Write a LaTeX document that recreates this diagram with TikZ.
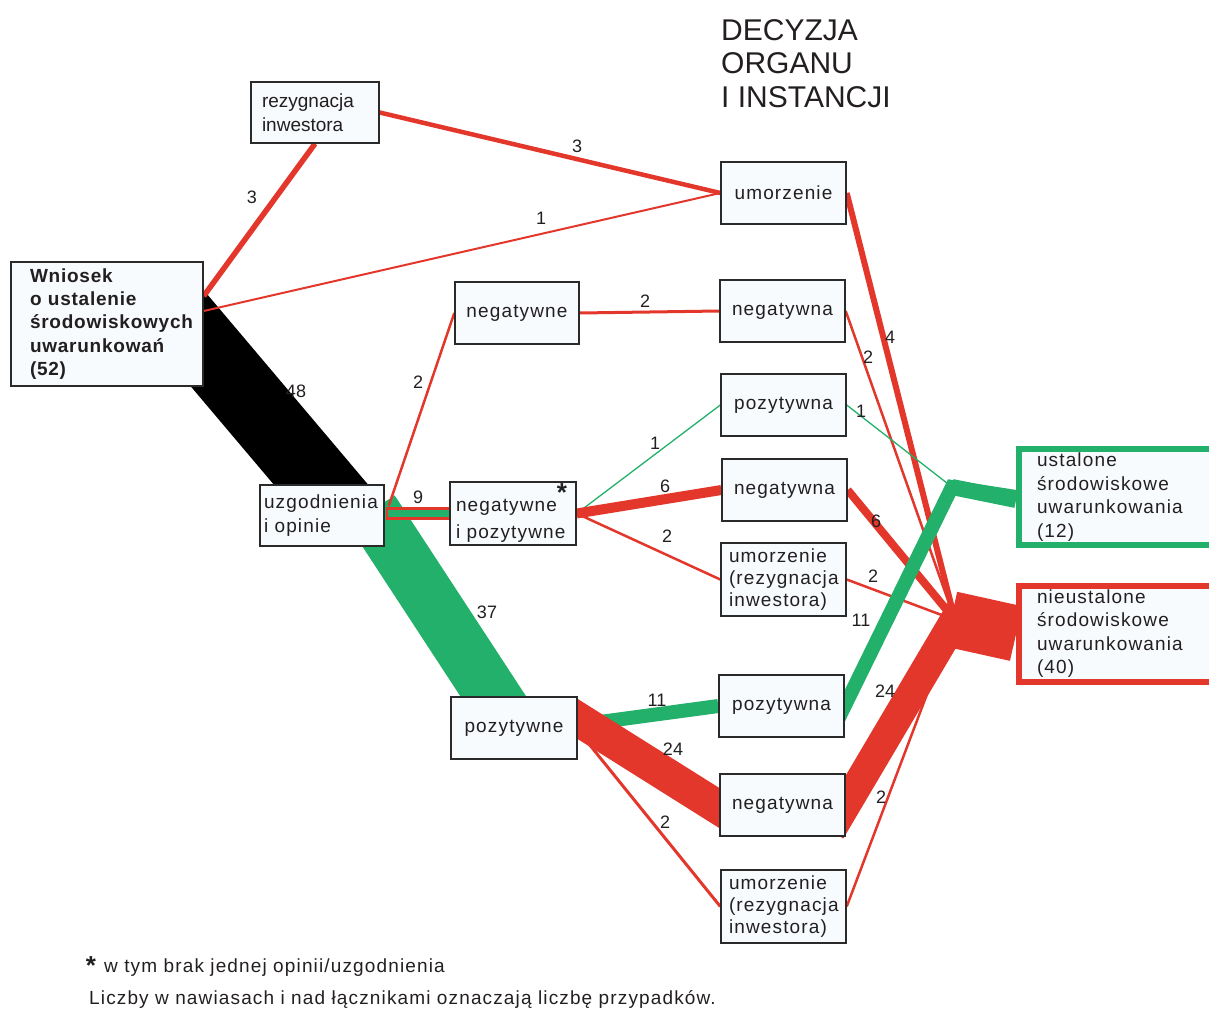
\documentclass[tikz,border=0pt]{standalone}
\usepackage{fontspec}
\setmainfont{Liberation Sans}
\hyphenpenalty=10000
\definecolor{ink}{HTML}{231F20}
\definecolor{frame}{HTML}{2A2A2A}
\definecolor{paper}{HTML}{F7FBFD}
\definecolor{nayred}{HTML}{E3372C}
\definecolor{yeagreen}{HTML}{22B06A}
\newcommand{\boxfont}{\fontsize{19}{23.5}\selectfont\addfontfeatures{LetterSpace=6}}
\newcommand{\boxfontwide}{\fontsize{19}{27}\selectfont\addfontfeatures{LetterSpace=6}}
\newcommand{\boxfonttight}{\fontsize{19}{22}\selectfont\addfontfeatures{LetterSpace=6}}
\newcommand{\plainfont}{\fontsize{19}{24}\selectfont}
\newcommand{\numfont}{\fontsize{18}{20}\selectfont}
\newcommand{\titlefont}{\fontsize{30}{33.5}\selectfont}
\newcommand{\notefont}{\fontsize{19}{20}\selectfont\addfontfeatures{LetterSpace=6}}
\pgfdeclarelayer{background}
\pgfsetlayers{background,main}
\tikzset{
  box/.style={draw=frame, fill=paper, line width=1.4pt, inner sep=0pt,
    minimum width=125pt, minimum height=62pt, text=ink, font=\boxfont},
  boxl/.style={box, align=left, text width=#1},
  outcome/.style={box, line width=6pt, minimum width=196pt, minimum height=96pt,
    align=left, text width=160pt, inner xsep=18pt},
  nay/.style={draw=nayred, line width=#1},
  yea/.style={draw=yeagreen, line width=#1},
  num/.style={text=ink, font=\numfont},
}

\begin{document}
\begin{tikzpicture}[x=1pt,y=-1pt]
  \useasboundingbox (0,0) rectangle (1209,1009);

  % heading
  \node[anchor=north west, align=left, text=ink, font=\titlefont, inner sep=0pt] (title)
    at (721,19) {DECYZJA\\ORGANU\\I INSTANCJI};

  % first column
  \node[boxl=154pt, inner xsep=19pt, minimum width=192pt, minimum height=124pt,
    font={\fontsize{19}{23.3}\selectfont\bfseries\addfontfeatures{LetterSpace=4}}] (wn)
    at (107,324) {Wniosek\\o ustalenie\\środowiskowych\\uwarunkowań\\(52)};
  \node[boxl=106pt, inner xsep=11pt, minimum width=128pt, minimum height=61pt, font=\plainfont] (rez)
    at (315,112.5) {rezygnacja\\inwestora};
  \node[boxl=116pt, inner xsep=4pt, minimum width=124pt, minimum height=61pt] (uzg)
    at (322,515.5) {uzgodnienia\\i opinie};

  % opinions
  \node[box, minimum width=124pt] (negm) at (517,313) {negatywne};
  \node[boxl=114pt, inner xsep=6pt, minimum width=126pt, minimum height=63pt, font=\boxfontwide] (nip)
    at (513,513.5) {\rule{0pt}{27pt}negatywne\\i pozytywne};
  \node[box, minimum width=126pt] (poz) at (514,728) {pozytywne};

  % decisions
  \node[box] (um1) at (783.5,193) {umorzenie};
  \node[box] (neg1) at (782.5,311) {negatywna};
  \node[box] (poz1) at (783.5,405) {pozytywna};
  \node[box] (neg2) at (784.5,490) {negatywna};
  \node[boxl=109pt, inner xsep=8pt, minimum height=73pt, font=\boxfonttight] (um2)
    at (783.5,579.5) {umorzenie\\(rezygnacja\\inwestora)};
  \node[box] (poz2) at (781.5,706) {pozytywna};
  \node[box] (neg3) at (782.5,805) {negatywna};
  \node[boxl=109pt, inner xsep=8pt, minimum height=73pt, font=\boxfonttight] (um3)
    at (783.5,906.5) {umorzenie\\(rezygnacja\\inwestora)};

  % outcomes
  \node[outcome, draw=yeagreen] (ust) at (1117,497)
    {ustalone\\środowiskowe\\uwarunkowania\\(12)};
  \node[outcome, draw=nayred] (nie) at (1117,633.5)
    {nieustalone\\środowiskowe\\uwarunkowania\\(40)};

  \coordinate (gm) at (952,487);
  \coordinate (rm) at (955,620);

  \begin{pgfonlayer}{background}
    \draw[line width=72pt, draw=black, shorten <=-40pt, shorten >=-35pt]
      ([shift={(-5,16)}]wn.east) -- ([shift={(-2,-32)}]uzg.center);
    \draw[yea=55pt] ([shift={(-13,-5)}]uzg.east) -- (poz.center);
    \draw[nay=13pt] ([shift={(1,-2)}]uzg.east) -- (nip.west);
    \draw[yea=7.5pt] ([shift={(3,-2)}]uzg.east) -- (nip.west);
    \draw[nay=5.5pt] ([shift={(0,-28)}]wn.east) -- (rez.south);
    \draw[nay=2pt] ([shift={(0,-13)}]wn.east) -- (um1.west);
    \draw[nay=4.5pt] (rez.east) -- (um1.west);
    \draw[nay=2.5pt] ([shift={(4,-9.5)}]uzg.east) -- (negm.west);

    \draw[nay=3pt] (negm.east) -- (neg1.west);
    \draw[yea=1.3pt] (nip.east) -- (poz1.west);
    \draw[nay=10pt] (nip.east) -- (neg2.west);
    \draw[nay=2.5pt] (nip.east) -- (um2.west);
    \draw[yea=14pt] ([shift={(0,-3)}]poz.east) -- (poz2.west);
    \draw[nay=34pt, shorten <=-15pt, shorten >=-20pt]
      ([shift={(0,-9)}]poz.east) -- ([shift={(0,3)}]neg3.west);
    \draw[nay=3pt] ([shift={(0,2)}]poz.east) -- (um3.west);

    \draw[nay=6pt] (um1.east) -- (rm);
    \draw[nay=2.5pt] (neg1.east) -- (rm);
    \draw[yea=1.3pt] (poz1.east) -- (gm);
    \draw[nay=8pt] (neg2.east) -- (rm);
    \draw[nay=2.5pt] (um2.east) -- (rm);
    \draw[nay=2.5pt] (um3.east) -- (rm);
    \draw[yea=14pt, line join=miter, shorten <=-15pt] (poz2.east) -- (gm) -- (ust.west);
    \draw[yea=16pt] (gm) -- ([shift={(0,3)}]ust.west);
    \draw[nay=30pt, line join=miter, shorten <=-30pt] (neg3.east) -- (rm) -- (nie.west);
    \draw[nay=56pt, shorten <=-4pt] (rm) -- (nie.west);
  \end{pgfonlayer}

  % counts
  \node[num] (c1) at (252,197) {3};
  \node[num] (c2) at (541,218) {1};
  \node[num] (c3) at (577,146) {3};
  \node[num] (c4) at (296,391) {48};
  \node[num] (c5) at (418,382) {2};
  \node[num] (c6) at (418,497) {9};
  \node[num] (c7) at (487,612) {37};
  \node[num] (c8) at (645,301) {2};
  \node[num] (c9) at (655,443) {1};
  \node[num] (c10) at (665,486) {6};
  \node[num] (c11) at (667,536) {2};
  \node[num] (c12) at (657,700) {11};
  \node[num] (c13) at (673,749) {24};
  \node[num] (c14) at (665,822) {2};
  \node[num] (c15) at (890,337) {4};
  \node[num] (c16) at (868,357) {2};
  \node[num] (c17) at (861,411) {1};
  \node[num] (c18) at (876,521) {6};
  \node[num] (c19) at (873,576) {2};
  \node[num] (c20) at (861,620) {11};
  \node[num] (c21) at (885,691) {24};
  \node[num] (c22) at (881,797) {2};

  \node[anchor=base, text=ink, font=\fontsize{26}{26}\selectfont\bfseries, inner sep=0pt] (ast)
    at (562,501) {*};

  % notes
  \node[anchor=base, text=ink, font=\fontsize{26}{26}\selectfont\bfseries, inner sep=0pt] (ast2)
    at (91,974) {*};
  \node[anchor=base west, text=ink, font=\notefont, inner sep=0pt] (note1)
    at (104,972) {w tym brak jednej opinii/uzgodnienia};
  \node[anchor=base west, text=ink, font=\notefont, inner sep=0pt] (note2)
    at (89,1004) {Liczby w nawiasach i nad łącznikami oznaczają liczbę przypadków.};
\end{tikzpicture}
\end{document}
